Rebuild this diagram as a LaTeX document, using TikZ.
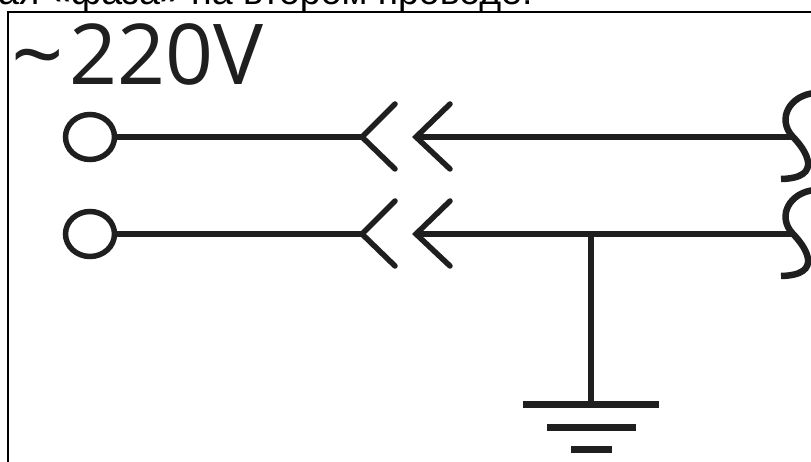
\documentclass[tikz,border=0pt]{standalone}
\usepackage{fontspec}
\usetikzlibrary{shapes.geometric}
\setmainfont{Liberation Sans}
\newfontfamily\labfont{Open Sans}
\tikzset{
  wire/.style={line width=5.5pt,draw=black!88},
  frameline/.style={line width=2.2pt,draw=black},
  term/.style={ellipse,draw=black!88,line width=5.5pt,minimum width=49pt,minimum height=45pt,inner sep=0pt,fill=white}
}
\begin{document}
\begin{tikzpicture}[x=1pt,y=-1pt]
\useasboundingbox (0,0) rectangle (811,462);
\clip (0,0) rectangle (811,462);
\fill[white] (0,0) rectangle (811,462);
\node[anchor=base west,inner sep=0pt,font=\fontsize{37.5}{37.5}\selectfont] (cap) at (-2,5) {ая «фаза» на втором проводе:};
\draw[frameline] (8,480) -- (8,12) -- (830,12);
\node[anchor=base west,inner sep=0pt,font=\labfont\fontsize{92}{92}\selectfont,text=black!88] (til) at (11,88) {\~{}};
\node[anchor=base west,inner sep=0pt,font=\labfont\fontsize{84}{84}\selectfont,text=black!88] (lab) at (69,85) {220V};
\foreach \n/\y in {a/137,b/234}{
  \node[term] (t\n) at (90,\y) {};
  \coordinate (p\n) at (362,\y);
  \coordinate (q\n) at (416,\y);
  \coordinate (e\n) at (793,\y);
  \draw[wire] (t\n) -- (p\n);
  \draw[wire] (q\n) -- (e\n);
  \draw[wire,line cap=round,line join=miter] (395,\y-33) -- (p\n) -- (395,\y+32);
  \draw[wire,line cap=round,line join=miter] (450,\y-33) -- (q\n) -- (450,\y+32);
  \draw[wire,line width=6.5pt] (815,\y-44) .. controls (790,\y-42) and (776,\y-18) .. (e\n)
     .. controls (805,\y+12) and (825,\y+41) .. (781,\y+42);
}
\coordinate (g) at (591,234);
\coordinate (g1) at (591,404);
\draw[wire] (g) -- (g1);
\draw[wire,line width=7pt] (523,404) -- (659,404);
\draw[wire,line width=7pt] (547,427) -- (636,427);
\draw[wire,line width=7pt] (571,449) -- (612,449);
\end{tikzpicture}
\end{document}
